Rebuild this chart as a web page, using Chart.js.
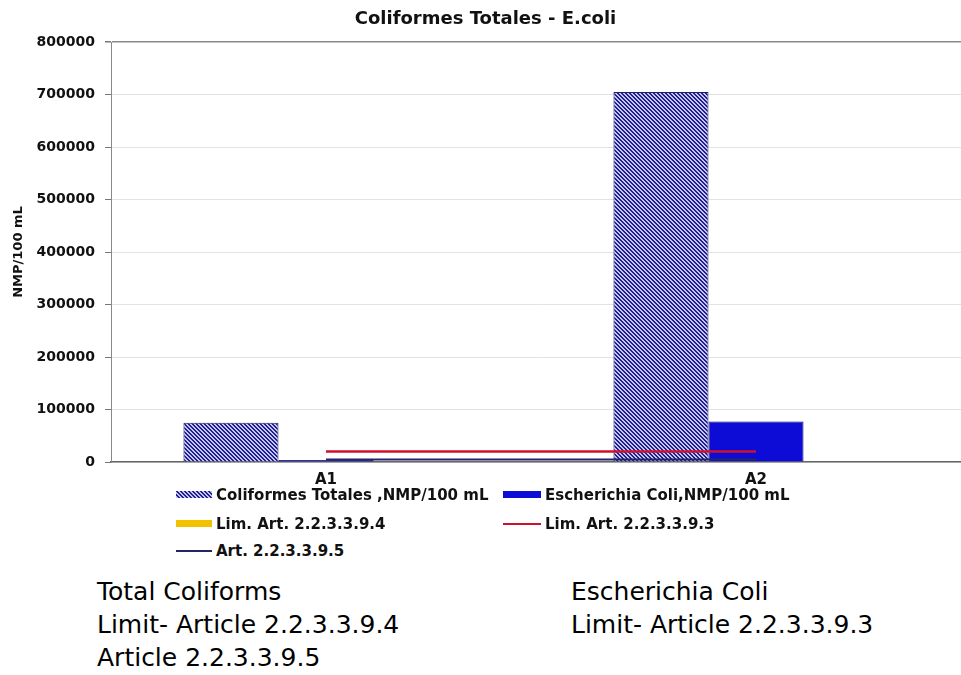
<!DOCTYPE html>
<html>
<head>
<meta charset="utf-8">
<script src="https://cdn.jsdelivr.net/npm/chart.js@4.4.0/dist/chart.umd.min.js"></script>
<style>
  html, body { margin:0; padding:0; background:#fff; overflow:hidden; width:961px; height:675px; }
  #wrap { position:absolute; left:0; top:0; width:997px; height:501px; }
  .leg { position:absolute; font:bold 15px "DejaVu Sans"; color:#111; line-height:18px; white-space:nowrap; }
  .sw { position:absolute; }
  .note { position:absolute; font:25px "DejaVu Sans"; color:#000; line-height:33px; white-space:nowrap; }
</style>
</head>
<body>
<div id="wrap"><canvas id="chart" width="997" height="501"></canvas></div>
<div id="legend"></div>
<div class="note" style="left:97px; top:575px;">Total Coliforms<br>Limit- Article 2.2.3.3.9.4<br>Article 2.2.3.3.9.5</div>
<div class="note" style="left:571px; top:575px;">Escherichia Coli<br>Limit- Article 2.2.3.3.9.3</div>
<script>
const categories = ['A1', 'A2'];
const totalColiforms = [75000, 705000];
const eColi = [4000, 77000];
const limArt394 = [0, 0];
const limArt393 = [20000, 20000];
const art395 = [5000, 5000];

// hatch tile for the total coliforms bars
const tile = document.createElement('canvas');
tile.width = tile.height = 4;
const tc = tile.getContext('2d');
tc.fillStyle = '#c4c4f2'; tc.fillRect(0, 0, 4, 4);
tc.fillStyle = '#20208f';
for (let i = 0; i < 4; i++) { tc.fillRect(i, i, 1, 1); tc.fillRect((i + 1) % 4, i, 1, 1); }
const hatch = document.getElementById('chart').getContext('2d').createPattern(tile, 'repeat');

Chart.defaults.font.family = 'DejaVu Sans';
Chart.defaults.color = '#111';

const datasets = [
  {type:'bar', label:'Coliformes Totales ,NMP/100 mL', data: totalColiforms, order:1,
   backgroundColor: hatch, borderColor:'#1d1d5e', borderWidth:1},
  {type:'bar', label:'Escherichia Coli,NMP/100 mL', data: eColi, order:1,
   backgroundColor:'#0c0cd6', borderColor:'#00006a', borderWidth:1},
  {type:'bar', label:'Lim. Art. 2.2.3.3.9.4', data: limArt394, order:1,
   backgroundColor:'#f2c200', borderWidth:0},
  {type:'line', label:'Lim. Art. 2.2.3.3.9.3', data: limArt393, order:0,
   borderColor:'#d0102c', borderWidth:2.5, pointRadius:0, fill:false},
  {type:'line', label:'Art. 2.2.3.3.9.5', data: art395, order:0,
   borderColor:'#25256e', borderWidth:2, pointRadius:0, fill:false}
];

const chart = new Chart(document.getElementById('chart'), {
  data: { labels: categories, datasets: datasets },
  options: {
    responsive: false,
    animation: false,
    layout: { padding: { left:0, right:26, top:0, bottom:3 } },
    datasets: { bar: { barPercentage: 1, categoryPercentage: 0.663 } },
    plugins: {
      legend: { display:false },
      tooltip: { enabled:false },
      title: { display:true, text:'Coliformes Totales - E.coli', color:'#111',
               font:{ size:18, weight:'bold' }, padding:{ top:9, bottom:11.4 } }
    },
    scales: {
      x: {
        grid: { display:false, drawTicks:false },
        border: { display:true, color:'#666', width:1.5 },
        ticks: { font:{ size:15, weight:'bold' }, color:'#111', padding:9 }
      },
      y: {
        min:0, max:800000,
        afterFit: s => { s.width = 111; },
        title: { display:true, text:'NMP/100 mL', color:'#111',
                 font:{ size:13, weight:'bold' }, padding:{ top:11, bottom:0 } },
        grid: {
          color: c => (c.tick && (c.tick.value === 800000)) ? '#8a8a8a' : '#e2e2e2',
          lineWidth: c => (c.tick && c.tick.value === 800000) ? 1.5 : 1,
          tickColor:'#777', tickLength:6
        },
        border: { display:true, color:'#888', width:1 },
        ticks: { stepSize:100000, padding:10, font:{ size:14, weight:'bold' }, color:'#111',
                 callback: v => String(v) }
      }
    }
  }
});

// legend laid out in two columns like the original
const legendPos = [
  {sx:176, tx:216, y:495}, {sx:503, tx:545, y:495},
  {sx:176, tx:216, y:524}, {sx:503, tx:545, y:524},
  {sx:176, tx:216, y:551}
];
const legend = document.getElementById('legend');
datasets.forEach((ds, i) => {
  const p = legendPos[i];
  const sw = document.createElement('div');
  sw.className = 'sw';
  sw.style.left = p.sx + 'px'; sw.style.width = (p.tx - p.sx - 4) + 'px';
  if (ds.type === 'bar') {
    sw.style.top = (p.y - 4) + 'px'; sw.style.height = '7px';
    sw.style.background = (i === 0) ? 'url(' + tile.toDataURL() + ')' : ds.backgroundColor;
  } else {
    sw.style.top = (p.y - 1) + 'px'; sw.style.height = '2px';
    sw.style.background = ds.borderColor;
  }
  legend.appendChild(sw);
  const t = document.createElement('div');
  t.className = 'leg';
  t.style.left = p.tx + 'px'; t.style.top = (p.y - 9) + 'px';
  t.textContent = ds.label;
  legend.appendChild(t);
});
</script>
</body>
</html>
